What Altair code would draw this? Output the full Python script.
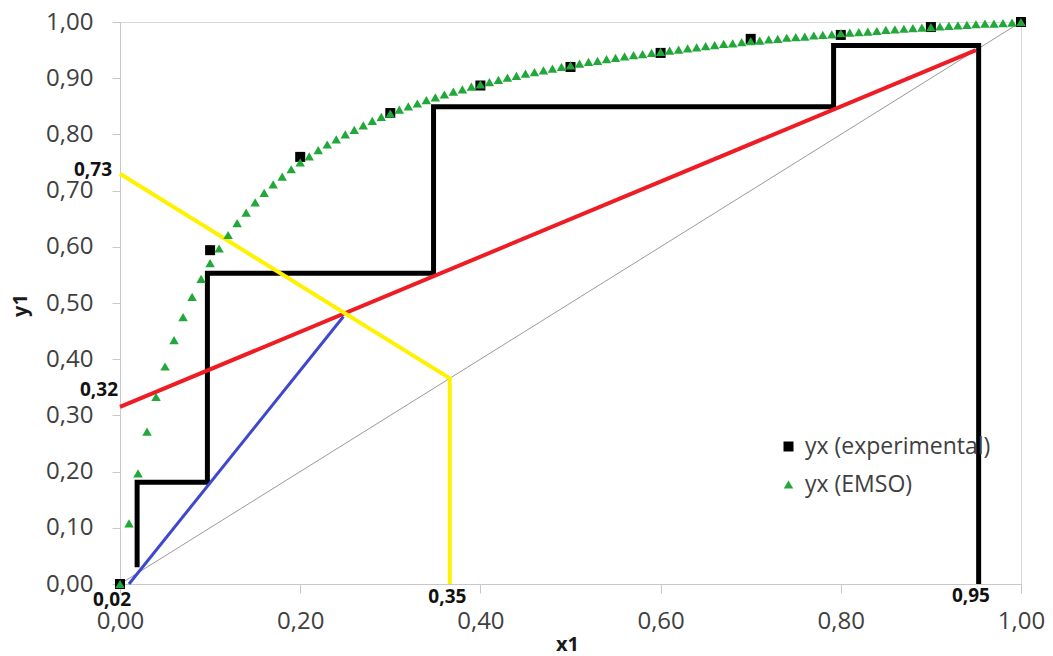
import altair as alt
import pandas as pd

# ---------------- data ----------------
exp_x = [0.0, 0.1, 0.2, 0.3, 0.4, 0.5, 0.6, 0.7, 0.8, 0.9, 1.0]
exp_y = [0.0, 0.594, 0.760, 0.838, 0.887, 0.920, 0.945, 0.970, 0.977, 0.991, 1.0]

emso_x = [0.00, 0.01, 0.02, 0.03, 0.04, 0.05, 0.06, 0.07, 0.08, 0.09,
          0.10, 0.11, 0.12, 0.13, 0.14, 0.15, 0.16, 0.17, 0.18, 0.19,
          0.20, 0.21, 0.22, 0.23, 0.24, 0.25, 0.26, 0.27, 0.28, 0.29,
          0.30, 0.31, 0.32, 0.33, 0.34, 0.35, 0.36, 0.37, 0.38, 0.39,
          0.40, 0.41, 0.42, 0.43, 0.44, 0.45, 0.46, 0.47, 0.48, 0.49,
          0.50, 0.51, 0.52, 0.53, 0.54, 0.55, 0.56, 0.57, 0.58, 0.59,
          0.60, 0.61, 0.62, 0.63, 0.64, 0.65, 0.66, 0.67, 0.68, 0.69,
          0.70, 0.71, 0.72, 0.73, 0.74, 0.75, 0.76, 0.77, 0.78, 0.79,
          0.80, 0.81, 0.82, 0.83, 0.84, 0.85, 0.86, 0.87, 0.88, 0.89,
          0.90, 0.91, 0.92, 0.93, 0.94, 0.95, 0.96, 0.97, 0.98, 0.99,
          1.00]
emso_y = [0.000, 0.108, 0.197, 0.271, 0.333, 0.387, 0.434, 0.475, 0.511, 0.543,
          0.571, 0.597, 0.621, 0.642, 0.661, 0.679, 0.696, 0.711, 0.725, 0.738,
          0.750, 0.761, 0.772, 0.782, 0.791, 0.800, 0.808, 0.816, 0.824, 0.831,
          0.837, 0.844, 0.850, 0.855, 0.861, 0.866, 0.871, 0.876, 0.880, 0.885,
          0.889, 0.893, 0.897, 0.901, 0.904, 0.908, 0.911, 0.914, 0.917, 0.920,
          0.923, 0.926, 0.929, 0.931, 0.934, 0.936, 0.939, 0.941, 0.943, 0.945,
          0.947, 0.949, 0.951, 0.953, 0.955, 0.957, 0.959, 0.961, 0.962, 0.964,
          0.966, 0.967, 0.969, 0.970, 0.972, 0.973, 0.974, 0.976, 0.977, 0.978,
          0.980, 0.981, 0.982, 0.983, 0.984, 0.986, 0.987, 0.988, 0.989, 0.990,
          0.991, 0.992, 0.993, 0.994, 0.995, 0.996, 0.997, 0.997, 0.998, 0.999,
          1.000]

series_names = ["yx (experimental)", "yx (EMSO)"]

diag_x = [0.0, 1.0]
diag_y = [0.0, 1.0]

rect_x = [0.0, 0.95]
rect_y = [0.315, 0.95]

strip_x = [0.01, 0.248]
strip_y = [0.0, 0.476]

q_x = [0.0, 0.366, 0.366]
q_y = [0.73, 0.366, 0.0]

step_x = [0.953, 0.953, 0.792, 0.792, 0.348, 0.348, 0.097, 0.097, 0.019, 0.019]
step_y = [0.0, 0.958, 0.958, 0.849, 0.849, 0.553, 0.553, 0.181, 0.181, 0.030]

ann_labels = ["0,73", "0,32", "0,02", "0,35", "0,95"]
ann_x = [0.0, 0.0, 0.02, 0.35, 0.95]
ann_y = [0.73, 0.32, 0.0, 0.0, 0.0]

x_ticks = [0.0, 0.2, 0.4, 0.6, 0.8, 1.0]
y_ticks = [0.0, 0.1, 0.2, 0.3, 0.4, 0.5, 0.6, 0.7, 0.8, 0.9, 1.0]

# ---------------- styling ----------------
FONT = "Open Sans"
AX_COL = "#c8c8c8"
LAB_COL = "#404040"
label_expr = "replace(format(datum.value, '.2f'), '.', ',')"

x_axis = alt.Axis(values=x_ticks, labelExpr=label_expr, grid=False,
                  tickSize=9, tickColor=AX_COL, domainColor=AX_COL,
                  labelFont=FONT, labelFontSize=24, labelColor=LAB_COL,
                  labelPadding=16, labelFlush=False, labelOverlap=False,
                  title="x1", titleFont=FONT, titleFontSize=20,
                  titleFontWeight="bold", titleColor="#1a1a1a",
                  titleX=447, titleY=60, titleAlign="center",
                  titleBaseline="middle")
y_axis = alt.Axis(values=y_ticks, labelExpr=label_expr, grid=False,
                  tickSize=8, tickColor=AX_COL, domainColor=AX_COL,
                  labelFont=FONT, labelFontSize=24, labelColor=LAB_COL,
                  labelPadding=19, labelFlush=False, labelOverlap=False,
                  title="y1", titleFont=FONT, titleFontSize=20,
                  titleFontWeight="bold", titleColor="#1a1a1a",
                  titleX=-100, titleY=283, titleAngle=270,
                  titleAlign="center", titleBaseline="middle")

xs = alt.Scale(domain=[0, 1], nice=False, zero=False)
ys = alt.Scale(domain=[0, 1], nice=False, zero=False)


def X():
    return alt.X("x:Q", scale=xs, axis=x_axis)


def Y():
    return alt.Y("y:Q", scale=ys, axis=y_axis)


def line_layer(xv, yv, color, width):
    df = pd.DataFrame({"x": xv, "y": yv, "o": list(range(len(xv)))})
    return alt.Chart(df).mark_line(color=color, strokeWidth=width,
                                   strokeCap="butt", strokeJoin="miter",
                                   clip=False).encode(
        x=X(), y=Y(), order="o:Q")


diag = line_layer(diag_x, diag_y, "#9a9a9a", 1)
steps = line_layer(step_x, step_y, "#000000", 5)
rect = line_layer(rect_x, rect_y, "#ee1c25", 4)
strip = line_layer(strip_x, strip_y, "#3f48cc", 3)
qline = line_layer(q_x, q_y, "#fff200", 4)

pts = pd.concat([
    pd.DataFrame({"x": exp_x, "y": exp_y, "series": series_names[0]}),
    pd.DataFrame({"x": emso_x, "y": emso_y, "series": series_names[1]}),
], ignore_index=True)

points = alt.Chart(pts).mark_point(filled=True, opacity=1, strokeWidth=0).encode(
    x=X(), y=Y(),
    color=alt.Color("series:N",
                    scale=alt.Scale(domain=series_names,
                                    range=["#000000", "#22a83a"]),
                    legend=alt.Legend(title=None, orient="none",
                                      legendX=657, legendY=413,
                                      labelFont=FONT, labelFontSize=23,
                                      labelColor=LAB_COL, labelOffset=5,
                                      labelLimit=0,
                                      rowPadding=14, symbolSize=90,
                                      symbolStrokeWidth=0, padding=0)),
    shape=alt.Shape("series:N",
                    scale=alt.Scale(domain=series_names,
                                    range=["square", "triangle-up"]),
                    legend=None),
    size=alt.Size("series:N",
                  scale=alt.Scale(domain=series_names, range=[100, 90]),
                  legend=None),
)

ann_offsets = [  # (align, dx, dy)
    ("right", -8, -4),
    ("right", -2, -14),
    ("center", -26, 16),
    ("center", 12, 13),
    ("center", -5, 12),
]
ann_layers = []
for lab, ax_, ay_, (al, dx, dy) in zip(ann_labels, ann_x, ann_y, ann_offsets):
    df = pd.DataFrame({"x": [ax_], "y": [ay_], "t": [lab]})
    ann_layers.append(
        alt.Chart(df).mark_text(align=al, baseline="middle", dx=dx, dy=dy,
                                font=FONT, fontSize=19, fontWeight="bold",
                                color="#111111").encode(
            x=X(), y=Y(), text="t:N"))

chart = alt.layer(diag, steps, rect, strip, qline, points, *ann_layers).properties(
    width=901, height=562,
    autosize=alt.AutoSizeParams(type="none"),
    padding={"left": 112, "top": 14, "right": 24, "bottom": 72},
    background="white",
).configure_view(stroke="#d9d9d9", strokeWidth=1)

chart.save("out.html", embed_options={"renderer": "svg", "actions": False})
